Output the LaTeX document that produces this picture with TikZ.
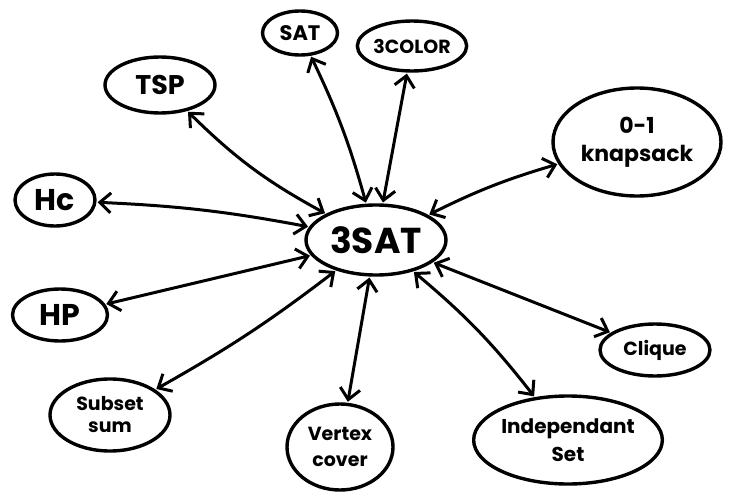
\documentclass[tikz,border=0pt]{standalone}
\usepackage{fontspec}
\setmainfont{Poppins}
\usetikzlibrary{shapes.geometric,arrows.meta}
\begin{document}
\begin{tikzpicture}[x=1pt,y=-1pt,
  prob/.style={draw=black,line width=3.4pt,ellipse,inner sep=0pt,align=center,font=\fontsize{19}{22}\selectfont\bfseries},
  link/.style={draw=black,line width=3pt,{Straight Barb[length=11pt,width=20pt,line width=3pt]}-{Straight Barb[length=11pt,width=20pt,line width=3pt]},shorten <=1pt,shorten >=1pt}]
\useasboundingbox (0,0) rectangle (742,503);
\node[prob,minimum width=140pt,minimum height=70pt,font=\fontsize{36}{40}\selectfont\bfseries] (sat3) at (376,240) {3SAT};
\node[prob,minimum width=75pt,minimum height=44pt,font=\fontsize{21}{24}\selectfont\bfseries] (sat) at (300,33) {SAT};
\node[prob,minimum width=96pt,minimum height=50pt] (col) at (412,46) {3COLOR};
\node[prob,minimum width=110pt,minimum height=56pt,font=\fontsize{27}{30}\selectfont\bfseries] (tsp) at (160,85) {TSP};
\node[prob,minimum width=168pt,minimum height=108pt,font=\fontsize{22}{26}\selectfont\bfseries] (knap) at (637,142) {0-1\\[2pt]knapsack};
\node[prob,minimum width=80pt,minimum height=52pt,font=\fontsize{30}{34}\selectfont\bfseries] (hc) at (55,200) {Hc};
\node[prob,minimum width=95pt,minimum height=52pt,font=\fontsize{30}{34}\selectfont\bfseries] (hp) at (60,315) {HP};
\node[prob,minimum width=110pt,minimum height=52pt] (cli) at (655,350) {Clique};
\node[prob,minimum width=120pt,minimum height=72pt] (sub) at (110,415) {Subset\\sum};
\node[prob,minimum width=106pt,minimum height=86pt] (vc) at (340,447) {Vertex\\[4pt]cover};
\node[prob,minimum width=170pt,minimum height=88pt,font=\fontsize{20}{24}\selectfont\bfseries] (ind) at (568,440) {Independant\\[4pt]Set};
\draw[link] (sat3) to[bend left=8] (tsp);
\draw[link] (sat3) to[bend right=5] (sat);
\draw[link] (sat3) to (col);
\draw[link] (sat3) to[bend left=5] (knap);
\draw[link] (sat3) to[bend right=4] (hc);
\draw[link] (sat3) to (hp);
\draw[link] (sat3) to (cli);
\draw[link] (sat3) to[bend left=4] (sub);
\draw[link] (sat3) to (vc);
\draw[link] (sat3) to[bend left=6] (ind);
\end{tikzpicture}
\end{document}
